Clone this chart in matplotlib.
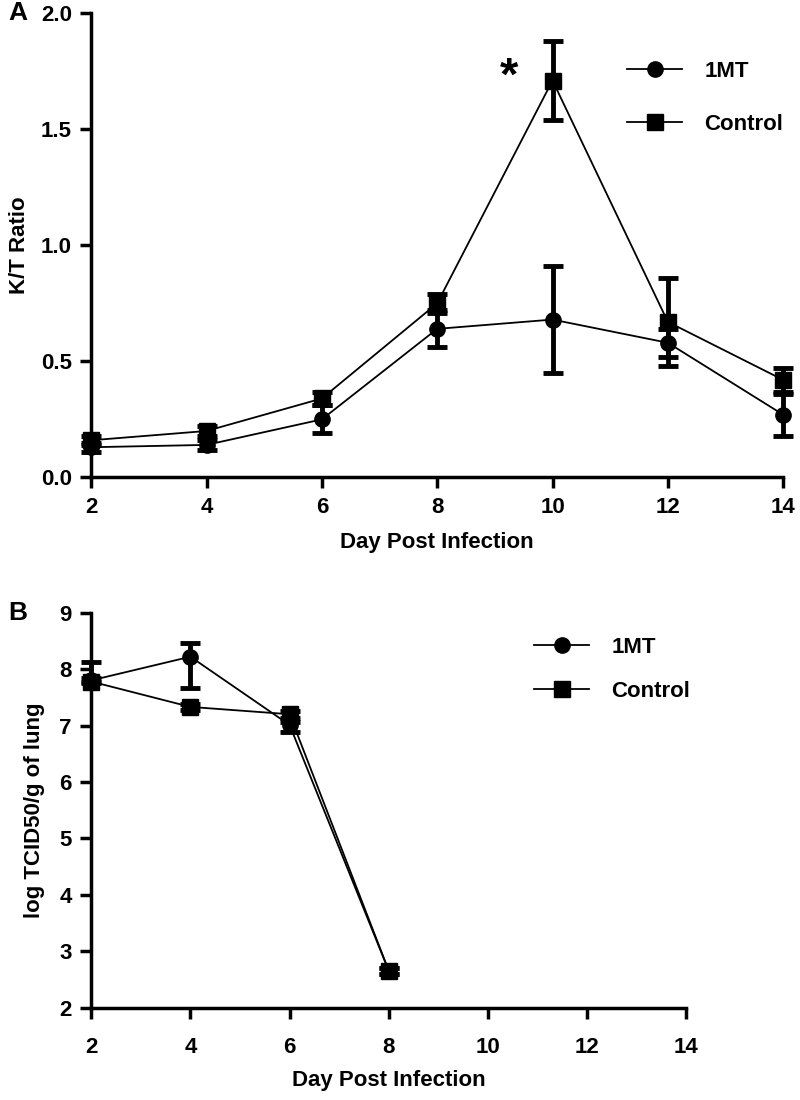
import numpy as np
import matplotlib
matplotlib.use('Agg')
import matplotlib.pyplot as plt
from matplotlib.lines import Line2D

plt.rcParams['font.family'] = ['Liberation Sans', 'DejaVu Sans']
plt.rcParams['font.weight'] = 'bold'

# panel A: K/T ratio
days_a = [2, 4, 6, 8, 10, 12, 14]
kt_1mt = [0.13, 0.14, 0.25, 0.64, 0.68, 0.58, 0.27]
kt_1mt_err = [0.02, 0.02, 0.06, 0.08, 0.23, 0.06, 0.09]
kt_ctrl = [0.16, 0.20, 0.34, 0.75, 1.71, 0.67, 0.42]
kt_ctrl_err = [0.02, 0.02, 0.03, 0.04, 0.17, 0.19, 0.05]

# panel B: lung titer (lower / upper error)
days_b = [2, 4, 6, 8]
tcid_1mt = [7.8, 8.22, 7.01, 2.65]
tcid_1mt_lo = [0.05, 0.55, 0.12, 0.05]
tcid_1mt_hi = [0.05, 0.24, 0.05, 0.05]
tcid_ctrl = [7.78, 7.33, 7.2, 2.65]
tcid_ctrl_lo = [0.0, 0.05, 0.06, 0.05]
tcid_ctrl_hi = [0.34, 0.05, 0.06, 0.05]

x_ticks = [2, 4, 6, 8, 10, 12, 14]


def style_axis(ax, xpad):
    for side in ['top', 'right']:
        ax.spines[side].set_visible(False)
    for side in ['left', 'bottom']:
        ax.spines[side].set_linewidth(2.5)
    ax.tick_params(width=2.5, length=8, labelsize=16, pad=6)
    ax.tick_params(axis='x', pad=xpad)
    for lbl in ax.get_xticklabels() + ax.get_yticklabels():
        lbl.set_fontweight('bold')


def draw_series(ax, x, y, err, marker):
    ax.errorbar(x, y, yerr=err, color='black', lw=1.3, marker=marker,
                markersize=11, elinewidth=3.5, capsize=7, capthick=3.5,
                clip_on=False, zorder=3)


def add_legend(ax, anchor, spacing):
    handles = [Line2D([], [], color='black', lw=1.3, marker='o', markersize=11),
               Line2D([], [], color='black', lw=1.3, marker='s', markersize=11)]
    ax.legend(handles, ['1MT', 'Control'], loc='upper left', bbox_to_anchor=anchor,
              frameon=False, prop={'size': 16, 'weight': 'bold'},
              handlelength=2.5, labelspacing=spacing, handletextpad=1.0)


fig = plt.figure(figsize=(8, 11), dpi=100)

ax1 = fig.add_axes([0.114, 0.566, 0.865, 0.422])
draw_series(ax1, days_a, kt_1mt, kt_1mt_err, 'o')
draw_series(ax1, days_a, kt_ctrl, kt_ctrl_err, 's')
ax1.set_xlim(2, 14)
ax1.set_ylim(0, 2.0)
ax1.set_xticks(x_ticks)
ax1.set_yticks([0.0, 0.5, 1.0, 1.5, 2.0])
ax1.set_yticklabels(['0.0', '0.5', '1.0', '1.5', '2.0'])
ax1.set_xlabel('Day Post Infection', fontsize=16, fontweight='bold', labelpad=10)
ax1.set_ylabel('K/T Ratio', fontsize=16, fontweight='bold', labelpad=8)
ax1.text(9.25, 1.72, '*', fontsize=34, fontweight='bold', ha='center', va='center')
style_axis(ax1, 6)
add_legend(ax1, (0.745, 0.94), 1.45)

ax2 = fig.add_axes([0.114, 0.084, 0.744, 0.359])
draw_series(ax2, days_b, tcid_1mt, [tcid_1mt_lo, tcid_1mt_hi], 'o')
draw_series(ax2, days_b, tcid_ctrl, [tcid_ctrl_lo, tcid_ctrl_hi], 's')
ax2.set_xlim(2, 14)
ax2.set_ylim(2, 9)
ax2.set_xticks(x_ticks)
ax2.set_yticks(range(2, 10))
ax2.set_xlabel('Day Post Infection', fontsize=16, fontweight='bold', labelpad=9)
ax2.set_ylabel('log TCID50/g of lung', fontsize=16, fontweight='bold', labelpad=10)
style_axis(ax2, 13)
add_legend(ax2, (0.71, 0.99), 1.05)

fig.text(0.01, 0.988, 'A', fontsize=19, fontweight='bold', va='center')
fig.text(0.01, 0.443, 'B', fontsize=19, fontweight='bold', va='center')

fig.savefig('out.png', dpi=100)
